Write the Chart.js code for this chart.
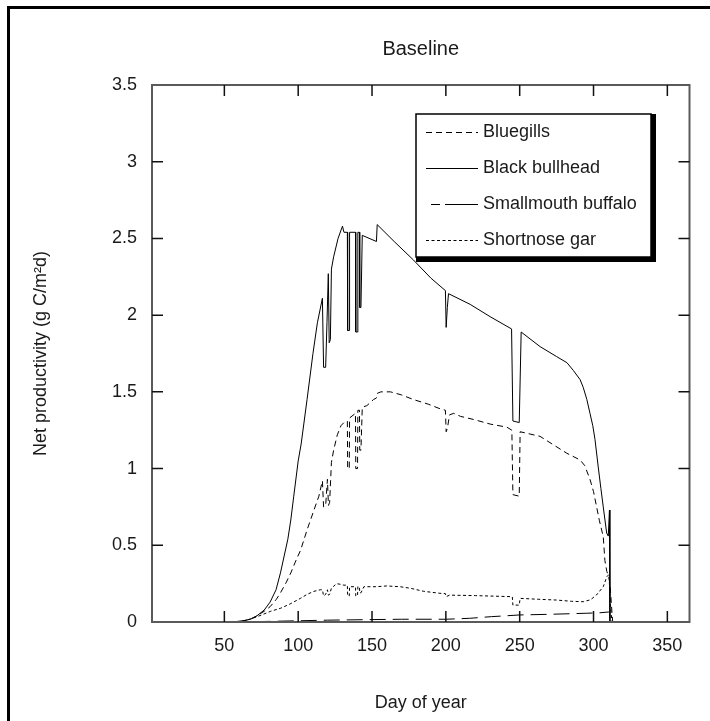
<!DOCTYPE html>
<html><head><meta charset="utf-8">
<script src="https://cdn.jsdelivr.net/npm/chart.js@4/dist/chart.umd.min.js"></script>
<style>
html,body{margin:0;padding:0;background:#fff;overflow:hidden;width:710px;height:721px;}
#frame{position:absolute;left:7px;top:6px;width:720px;height:730px;border-top:3px solid #000;border-left:3px solid #000;}
#wrap{position:absolute;left:0;top:0;width:710px;height:721px;}
</style></head><body>
<div id="frame"></div>
<div id="wrap"><canvas id="c" width="710" height="721"></canvas></div>
<script>
// ---- Data (day of year, net productivity g C/m2/d) ----
const chartTitle = "Baseline";
const xTitle = "Day of year";
const yTitle = "Net productivity (g C/m\u00B2d)";
const xTickValues = [50, 100, 150, 200, 250, 300, 350];
const yTickValues = [0, 0.5, 1, 1.5, 2, 2.5, 3, 3.5];
const seriesNames = ["Bluegills", "Black bullhead", "Smallmouth buffalo", "Shortnose gar"];

const bluegills = [[55,0],[62,0.005],[68,0.02],[72,0.04],[77,0.07],[81,0.10],[85,0.145],[88,0.19],[92,0.26],[95,0.32],[98,0.39],[101.7,0.47],[106,0.60],[110.7,0.73],[114,0.82],[116.4,0.92],[117.2,0.75],[118.6,0.76],[119.8,0.93],[120.5,0.76],[121.3,0.78],[122.5,1.04],[124,1.12],[126.5,1.22],[129,1.28],[131,1.30],[133.3,1.31],[133.5,1.0],[134.6,1.0],[134.8,1.33],[138.8,1.36],[139,1.0],[140.2,1.0],[140.4,1.38],[141.5,1.38],[141.7,1.12],[142.5,1.12],[143.4,1.40],[146.5,1.41],[151,1.45],[153,1.46],[153.5,1.49],[156,1.50],[162.5,1.50],[170,1.48],[178,1.45],[188,1.42],[196,1.39],[199.7,1.38],[200.2,1.24],[201,1.26],[202.5,1.35],[205.3,1.36],[210,1.34],[218.8,1.32],[230,1.29],[241.3,1.27],[244.7,1.25],[245.4,0.83],[249.7,0.82],[250.3,1.24],[263.8,1.21],[272,1.16],[281.9,1.10],[290.9,1.056],[294,1.02],[297.6,0.93],[300,0.85],[302.1,0.75],[304,0.66],[306.6,0.556],[307.7,0.40],[309,0.33],[310.5,0.29],[311.5,0.2],[312.5,0.06],[313,0]];

const blackBullhead = [[55,0],[60,0.005],[65,0.012],[68,0.02],[72,0.04],[77,0.078],[81,0.13],[85,0.21],[88,0.32],[90.5,0.43],[93,0.54],[95,0.665],[97,0.82],[100,1.05],[102,1.16],[106,1.45],[110,1.75],[113,1.95],[116.4,2.11],[117.2,1.66],[118.6,1.66],[119.5,1.95],[120.4,2.27],[121,1.82],[121.8,1.84],[122.5,2.30],[124,2.38],[127,2.5],[130,2.58],[131,2.54],[133.3,2.54],[133.5,1.90],[134.6,1.90],[134.8,2.54],[138.8,2.54],[139,1.89],[140.2,1.89],[140.4,2.54],[141.5,2.54],[141.7,2.05],[142.5,2.05],[143.4,2.52],[153,2.48],[153.5,2.59],[165,2.48],[178,2.36],[190,2.24],[199.7,2.16],[200.2,1.92],[201,2.05],[201.8,2.14],[216.5,2.07],[230,1.99],[244.5,1.91],[245.4,1.31],[249.7,1.30],[251,1.89],[263.8,1.795],[275,1.73],[282,1.69],[286.3,1.64],[290.9,1.58],[293,1.53],[295.5,1.45],[297.6,1.36],[299.5,1.28],[301,1.19],[303.2,1.01],[305,0.87],[306.6,0.75],[308.9,0.58],[310,0.56],[310.8,0.73],[311.1,0]];

const smallmouthBuffalo = [[55,0],[70,0.002],[85,0.005],[100,0.008],[120,0.012],[144,0.015],[170,0.018],[200,0.018],[216,0.024],[231,0.035],[240,0.04],[250,0.046],[270,0.05],[295,0.057],[304,0.06],[310,0.065],[310.8,0.065],[311.2,0]];

const shortnoseGar = [[55,0],[62,0.005],[68,0.02],[75,0.045],[81.4,0.07],[88.2,0.09],[95,0.12],[101.7,0.155],[106,0.18],[110.7,0.20],[115,0.21],[116.4,0.21],[117.2,0.17],[118.6,0.18],[119.8,0.21],[120.5,0.175],[121.3,0.18],[122.5,0.22],[126,0.25],[129,0.245],[131,0.24],[133.3,0.24],[133.5,0.17],[134.6,0.17],[134.8,0.23],[138.8,0.23],[139,0.17],[140.2,0.17],[140.4,0.23],[141.5,0.23],[141.7,0.19],[142.5,0.19],[144.5,0.23],[153,0.23],[160,0.235],[169,0.23],[176,0.22],[185,0.20],[196,0.187],[199.7,0.185],[200.2,0.165],[202.5,0.175],[220,0.172],[245,0.165],[245.4,0.11],[249.7,0.11],[250.3,0.154],[263,0.148],[275,0.143],[285,0.135],[293,0.132],[298,0.145],[302,0.176],[306.6,0.23],[309,0.295],[310.5,0.31],[311.5,0.1],[312.5,0]];

// ---- Styling ----
const FONT = "'Liberation Sans', Arial, sans-serif";
const TEXT = '#1a1a1a';
const toPts = arr => arr.map(p => ({x: p[0], y: p[1]}));
function ds(label, data, dash, legendDash) {
  return {label, data: toPts(data), borderColor: '#000', borderWidth: 1, borderDash: dash,
          legendDash: legendDash || dash, pointRadius: 0, tension: 0, fill: false};
}

const framePlugin = {
  id: 'frame',
  afterDatasetsDraw(chart) {
    const {ctx, chartArea: a, scales: {x, y}} = chart;
    ctx.save();
    // plot box
    ctx.strokeStyle = '#5a5a5a'; ctx.lineWidth = 2; ctx.setLineDash([]);
    ctx.strokeRect(a.left, a.top, a.right - a.left, a.bottom - a.top);
    // inward ticks
    const T = 11;
    ctx.strokeStyle = '#111'; ctx.lineWidth = 1.5;
    ctx.beginPath();
    x.ticks.forEach(t => {
      const px = x.getPixelForValue(t.value);
      ctx.moveTo(px, a.bottom); ctx.lineTo(px, a.bottom - T);
      ctx.moveTo(px, a.top); ctx.lineTo(px, a.top + T);
    });
    y.ticks.forEach(t => {
      const py = y.getPixelForValue(t.value);
      if (t.value === 0 || t.value === 3.5) return;
      ctx.moveTo(a.left, py); ctx.lineTo(a.left + T, py);
      ctx.moveTo(a.right, py); ctx.lineTo(a.right - T, py);
    });
    ctx.stroke();
    // title
    ctx.fillStyle = TEXT; ctx.font = "20px " + FONT;
    ctx.textAlign = 'center'; ctx.textBaseline = 'middle';
    ctx.fillText(chartTitle, (a.left + a.right) / 2, 49);
    // legend box
    const bx = 416, by = 114, bw = 235, bh = 143;
    ctx.fillStyle = '#fff'; ctx.fillRect(bx, by, bw, bh);
    ctx.fillStyle = '#000';
    ctx.fillRect(bx + bw, by, 5, bh + 5);
    ctx.fillRect(bx, by + bh, bw + 5, 5);
    ctx.strokeStyle = '#000'; ctx.lineWidth = 1.5;
    ctx.strokeRect(bx, by, bw, bh);
    const rows = [132, 168, 204, 240];
    ctx.font = "18px " + FONT; ctx.textAlign = 'left';
    chart.data.datasets.forEach((d, i) => {
      const yy = rows[i];
      ctx.strokeStyle = '#000'; ctx.lineWidth = 1;
      ctx.setLineDash(d.legendDash);
      ctx.beginPath();
      ctx.moveTo(i === 2 ? 431 : 426, yy + 0.5); ctx.lineTo(478, yy + 0.5);
      ctx.stroke();
      ctx.setLineDash([]);
      ctx.fillStyle = TEXT;
      ctx.fillText(d.label, 483, yy);
    });
    ctx.restore();
  }
};

new Chart(document.getElementById('c').getContext('2d'), {
  type: 'line',
  data: {
    datasets: [
      ds(seriesNames[0], bluegills, [6, 4]),
      ds(seriesNames[1], blackBullhead, []),
      ds(seriesNames[2], smallmouthBuffalo, [16, 7], [9, 5, 34, 10]),
      ds(seriesNames[3], shortnoseGar, [3, 2.5])
    ]
  },
  options: {
    responsive: false, animation: false, devicePixelRatio: 1,
    layout: {padding: {left: 0, top: 85, right: 20.5, bottom: 0}},
    plugins: {legend: {display: false}, title: {display: false}, tooltip: {enabled: false}},
    scales: {
      x: {
        type: 'linear', min: 1, max: 365,
        afterBuildTicks: s => { s.ticks = xTickValues.map(v => ({value: v})); },
        afterFit: s => { s.height = 99; },
        grid: {display: false, drawTicks: false}, border: {display: false},
        ticks: {font: {family: FONT, size: 18}, color: TEXT, padding: 13, maxRotation: 0, autoSkip: false,
                callback: v => String(v)},
        title: {display: true, text: xTitle, color: TEXT, font: {family: FONT, size: 18}, padding: {top: 0, bottom: 7}}
      },
      y: {
        type: 'linear', min: 0, max: 3.5,
        afterBuildTicks: s => { s.ticks = yTickValues.map(v => ({value: v})); },
        afterFit: s => { s.width = 152; },
        grid: {display: false, drawTicks: false}, border: {display: false},
        ticks: {font: {family: FONT, size: 18}, color: TEXT, padding: 15, autoSkip: false,
                callback: v => String(v)},
        title: {display: true, text: yTitle, color: TEXT, font: {family: FONT, size: 18}, padding: {top: 30, bottom: 0}}
      }
    }
  },
  plugins: [framePlugin]
});
</script>
</body></html>
